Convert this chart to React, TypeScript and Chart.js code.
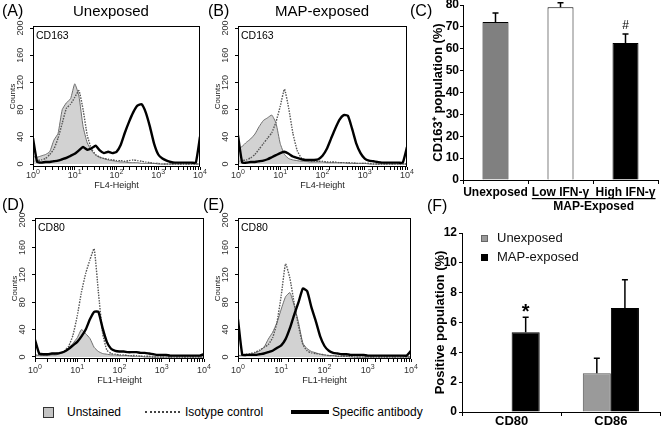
import React, { useEffect, useRef } from "react";
import { Chart, registerables } from "chart.js";

Chart.register(...registerables);

const FONT = "'Liberation Sans', Arial, Helvetica, sans-serif";
Chart.defaults.font.family = FONT;
Chart.defaults.color = "#000";

// ---------------- Flow cytometry histograms ----------------
// channel positions in decades (fluorescence = 10^e)
const DECADES = [
  0.0, 0.1, 0.2, 0.3, 0.4, 0.5, 0.6, 0.7, 0.8, 0.9,
  1.0, 1.1, 1.2, 1.3, 1.4, 1.5, 1.6, 1.7, 1.8, 1.9,
  2.0, 2.1, 2.2, 2.3, 2.4, 2.5, 2.6, 2.7, 2.8, 2.9,
  3.0, 3.1, 3.2, 3.3, 3.4, 3.5, 3.6, 3.7, 3.8, 3.9, 4.0,
];
const DECADE_LABELS = [0, 1, 2, 3, 4];
const COUNT_TICKS = [0, 40, 80, 120, 160, 200];

// (A) Unexposed, CD163
const A_UNSTAINED = [11, 10, 12, 14, 18, 35, 45, 80, 90, 96, 118, 100, 55, 31, 20, 13, 10, 8, 6, 5, 4, 3, 3, 2, 2, 2, 1, 1, 1, 1, 0, 0, 0, 0, 0, 0, 0, 0, 0, 0, 0];
const A_ISOTYPE = [4, 5, 6, 8, 14, 22, 38, 60, 82, 88, 98, 108, 80, 42, 22, 14, 10, 8, 7, 6, 5, 5, 4, 5, 6, 5, 4, 3, 2, 1, 1, 0, 0, 0, 0, 0, 0, 0, 0, 0, 0];
const A_SPECIFIC = [38, 3, 2, 3, 3, 4, 5, 7, 9, 12, 15, 20, 25, 21, 23, 27, 20, 16, 18, 16, 18, 28, 46, 62, 76, 86, 88, 76, 55, 30, 14, 8, 5, 3, 2, 2, 2, 2, 2, 2, 40];

// (B) MAP-exposed, CD163
const B_UNSTAINED = [22, 26, 32, 37, 44, 55, 64, 68, 72, 60, 30, 14, 8, 6, 5, 4, 4, 3, 3, 3, 3, 2, 2, 2, 2, 2, 1, 1, 1, 1, 1, 0, 0, 0, 0, 0, 0, 0, 0, 0, 0];
const B_ISOTYPE = [4, 5, 6, 9, 14, 22, 30, 38, 46, 62, 85, 110, 82, 45, 20, 9, 6, 5, 4, 4, 4, 3, 3, 3, 2, 2, 2, 2, 1, 1, 1, 1, 0, 0, 0, 0, 0, 0, 0, 0, 0];
const B_SPECIFIC = [42, 2, 2, 3, 3, 4, 5, 7, 10, 13, 16, 18, 15, 11, 9, 7, 6, 6, 6, 7, 12, 22, 37, 52, 65, 72, 71, 52, 30, 16, 8, 5, 4, 3, 2, 2, 2, 2, 2, 2, 25];

// (D) Unexposed, CD80
const D_UNSTAINED = [3, 2, 2, 2, 3, 3, 5, 7, 12, 20, 28, 40, 34, 27, 14, 8, 5, 4, 3, 3, 2, 2, 2, 1, 1, 1, 0, 0, 0, 0, 0, 0, 0, 0, 0, 0, 0, 0, 0, 0, 0];
const D_ISOTYPE = [3, 3, 3, 3, 4, 5, 6, 9, 16, 32, 60, 95, 122, 142, 158, 95, 35, 10, 5, 4, 3, 3, 2, 2, 2, 1, 1, 1, 0, 0, 0, 0, 0, 0, 0, 0, 0, 0, 0, 0, 0];
const D_SPECIFIC = [25, 5, 4, 4, 5, 5, 6, 8, 12, 17, 22, 30, 40, 55, 66, 66, 42, 22, 12, 9, 8, 8, 7, 7, 7, 6, 6, 5, 4, 3, 3, 3, 2, 2, 2, 2, 2, 2, 2, 2, 4];

// (E) MAP-exposed, CD80
const E_UNSTAINED = [2, 2, 3, 4, 6, 9, 14, 26, 36, 50, 70, 88, 94, 75, 50, 20, 12, 8, 6, 4, 3, 2, 2, 1, 1, 1, 0, 0, 0, 0, 0, 0, 0, 0, 0, 0, 0, 0, 0, 0, 0];
const E_ISOTYPE = [2, 3, 4, 5, 7, 10, 14, 18, 28, 50, 90, 136, 115, 78, 45, 18, 9, 6, 5, 4, 3, 2, 2, 1, 1, 1, 1, 0, 0, 0, 0, 0, 0, 0, 0, 0, 0, 0, 0, 0, 0];
const E_SPECIFIC = [55, 3, 3, 3, 3, 4, 5, 7, 9, 13, 17, 26, 42, 62, 80, 100, 96, 72, 52, 30, 16, 9, 6, 5, 4, 4, 3, 3, 3, 3, 2, 2, 2, 2, 2, 2, 2, 2, 2, 2, 9];

// ---------------- (C) CD163+ bar chart ----------------
const C_CATEGORIES = ["Unexposed", "Low IFN-γ", "High IFN-γ"];
const C_GROUP_LABEL = "MAP-Exposed";
const C_VALUES = [72.2, 79.0, 62.6];
const C_ERRORS = [4.1, 2.0, 4.1];
const C_MARKS = ["", "", "#"];
const C_COLORS = ["#808080", "#ffffff", "#000000"];

// ---------------- (F) CD80 / CD86 bar chart ----------------
const F_CATEGORIES = ["CD80", "CD86"];
const F_SERIES = ["Unexposed", "MAP-exposed"];
const F_UNEXPOSED = [0, 2.6];
const F_UNEXPOSED_ERR = [0, 1.0];
const F_MAP = [5.35, 6.97];
const F_MAP_ERR = [1.0, 1.9];
const F_MAP_MARKS = ["*", ""];
const F_COLORS = ["#9a9a9a", "#000000"];

// ---------------- Histogram component ----------------
const Y_AXIS_W = 33;
const PAD_T = 20;
const PAD_R = 8;
const X_AXIS_H = 30;

type HistProps = {
  L: number; T: number; R: number; B: number;
  yMin: number; marker: string; xTitle: string;
  labelDy: number; titleDy: number;
  unstained: number[]; isotype: number[]; specific: number[];
};

function Histogram(p: HistProps) {
  const ref = useRef<HTMLCanvasElement | null>(null);
  const w = Y_AXIS_W + (p.R - p.L) + PAD_R;
  const h = PAD_T + (p.B - p.T) + X_AXIS_H;
  useEffect(() => {
    const pts = (arr: number[]) => DECADES.map((e, i) => ({ x: Math.pow(10, e), y: arr[i] }));
    const overlay = {
      id: "histOverlay",
      afterDraw(chart: any) {
        const { ctx, chartArea: ca, scales } = chart;
        const xs = scales.x;
        const ys = scales.y;
        ctx.save();
        ctx.strokeStyle = "#000";
        ctx.lineWidth = 1;
        ctx.strokeRect(Math.round(ca.left) + 0.5, Math.round(ca.top) + 0.5, Math.round(ca.width) - 1, Math.round(ca.height) - 1);
        ctx.fillStyle = "#333";
        ctx.font = `9px ${FONT}`;
        ctx.textAlign = "center";
        ctx.textBaseline = "middle";
        COUNT_TICKS.forEach((v) => {
          ctx.save();
          ctx.translate(ca.left - 12, ys.getPixelForValue(v));
          ctx.rotate(-Math.PI / 2);
          ctx.fillText(String(v), 0, 0);
          ctx.restore();
        });
        DECADE_LABELS.forEach((e) => {
          const px = xs.getPixelForValue(Math.pow(10, e));
          ctx.font = `9px ${FONT}`;
          const w1 = ctx.measureText("10").width;
          ctx.font = `7px ${FONT}`;
          const w2 = ctx.measureText(String(e)).width;
          const x0 = px - (w1 + w2) / 2;
          ctx.textAlign = "left";
          ctx.font = `9px ${FONT}`;
          ctx.fillText("10", x0, ca.bottom + p.labelDy);
          ctx.font = `7px ${FONT}`;
          ctx.fillText(String(e), x0 + w1, ca.bottom + p.labelDy - 4);
        });
        ctx.fillStyle = "#000";
        ctx.font = `10.5px ${FONT}`;
        ctx.textAlign = "left";
        ctx.fillText(p.marker, ca.left + 3, ca.top + 10);
        ctx.restore();
      },
    };
    const chart = new Chart(ref.current as HTMLCanvasElement, {
      type: "line",
      data: {
        datasets: [
          { label: "Specific antibody", data: pts(p.specific), borderColor: "#000", borderWidth: 2.4, pointRadius: 0, tension: 0.15, fill: false },
          { label: "Isotype control", data: pts(p.isotype), borderColor: "#555", borderWidth: 1.4, borderDash: [1.5, 1.2], pointRadius: 0, tension: 0.15, fill: false },
          { label: "Unstained", data: pts(p.unstained), borderColor: "#6e6e6e", borderWidth: 1, backgroundColor: "#d2d2d2", pointRadius: 0, tension: 0.15, fill: "origin" },
        ] as any,
      },
      options: {
        responsive: false,
        animation: false,
        devicePixelRatio: 1,
        layout: { padding: { top: PAD_T, right: PAD_R, left: 0, bottom: 0 } },
        plugins: { legend: { display: false }, tooltip: { enabled: false } },
        scales: {
          x: {
            type: "logarithmic",
            min: 1,
            max: 10000,
            afterFit: (s: any) => { s.height = X_AXIS_H; },
            border: { display: false },
            grid: { drawOnChartArea: false, tickLength: 3, color: "#000" },
            ticks: { display: false, autoSkip: false },
            title: { display: true, text: p.xTitle, color: "#222", font: { size: 9 }, padding: { top: 0, bottom: 24 - p.titleDy } },
          },
          y: {
            min: p.yMin,
            max: 203,
            afterFit: (s: any) => { s.width = Y_AXIS_W; },
            afterBuildTicks: (s: any) => { s.ticks = COUNT_TICKS.map((v) => ({ value: v })); },
            border: { display: false },
            grid: { drawOnChartArea: false, tickLength: 3, color: "#000" },
            ticks: { display: false },
            title: { display: true, text: "Counts", color: "#222", font: { size: 8 }, padding: { top: 8, bottom: 0 } },
          },
        },
      } as any,
      plugins: [overlay],
    });
    return () => chart.destroy();
  }, []);
  return (
    <canvas
      ref={ref}
      width={w}
      height={h}
      style={{ position: "absolute", left: p.L - Y_AXIS_W, top: p.T - PAD_T, width: w, height: h }}
    />
  );
}

// error bar + annotation plugin factory
function errorPlugin(errs: number[][], marks: string[][]) {
  return {
    id: "errbars",
    afterDatasetsDraw(chart: any) {
      const { ctx, scales } = chart;
      const ys = scales.y;
      ctx.save();
      chart.data.datasets.forEach((ds: any, di: number) => {
        const meta = chart.getDatasetMeta(di);
        meta.data.forEach((el: any, i: number) => {
          const v = ds.data[i];
          const err = errs[di][i];
          const yTop = ys.getPixelForValue(v + err);
          if (err > 0) {
            ctx.strokeStyle = "#000";
            ctx.lineWidth = 1.5;
            ctx.beginPath();
            ctx.moveTo(el.x, el.y);
            ctx.lineTo(el.x, yTop);
            ctx.moveTo(el.x - 3, yTop);
            ctx.lineTo(el.x + 3, yTop);
            ctx.stroke();
          }
          const m = marks[di][i];
          if (m) {
            ctx.fillStyle = "#000";
            ctx.textAlign = "center";
            ctx.textBaseline = "alphabetic";
            if (m === "*") {
              ctx.font = `bold 20px ${FONT}`;
              ctx.fillText(m, el.x, yTop + 1);
            } else {
              ctx.font = `12px ${FONT}`;
              ctx.fillText(m, el.x, yTop - 5);
            }
          }
        });
      });
      ctx.restore();
    },
  };
}

function PanelC() {
  const ref = useRef<HTMLCanvasElement | null>(null);
  useEffect(() => {
    const groupPlugin = {
      id: "groupLabel",
      afterDraw(chart: any) {
        const { ctx, chartArea: ca, scales } = chart;
        const xs = scales.x;
        ctx.save();
        ctx.font = `bold 12px ${FONT}`;
        const l = xs.getPixelForTick(1) - ctx.measureText(C_CATEGORIES[1]).width / 2;
        const r = xs.getPixelForTick(2) + ctx.measureText(C_CATEGORIES[2]).width / 2;
        ctx.fillStyle = "#000";
        ctx.fillRect(l, ca.bottom + 18, r - l, 1.2);
        ctx.textAlign = "center";
        ctx.textBaseline = "middle";
        ctx.fillText(C_GROUP_LABEL, (l + r) / 2, ca.bottom + 27);
        ctx.restore();
      },
    };
    const chart = new Chart(ref.current as HTMLCanvasElement, {
      type: "bar",
      data: {
        labels: C_CATEGORIES,
        datasets: [
          { data: C_VALUES, backgroundColor: C_COLORS, borderColor: "#000", borderWidth: 1, barPercentage: 0.4, categoryPercentage: 1 },
        ],
      },
      options: {
        responsive: false,
        animation: false,
        devicePixelRatio: 1,
        layout: { padding: { top: 20, right: 11, left: 0, bottom: 0 } },
        plugins: { legend: { display: false }, tooltip: { enabled: false } },
        scales: {
          x: {
            afterFit: (s: any) => { s.height = 35; },
            border: { color: "#000", width: 1 },
            grid: { drawOnChartArea: false, tickLength: 4, color: "#000" },
            ticks: { font: { size: 12, weight: "bold" }, color: "#000", padding: 1, autoSkip: false, maxRotation: 0 },
          },
          y: {
            min: 0,
            max: 80,
            afterFit: (s: any) => { s.width = 38; },
            border: { color: "#000", width: 1 },
            grid: { drawOnChartArea: false, tickLength: 3, color: "#000" },
            ticks: { stepSize: 10, font: { size: 12, weight: "bold" }, color: "#000", padding: 1 },
            title: { display: true, text: "CD163⁺ population (%)", color: "#000", font: { size: 13, weight: "bold" }, padding: { top: 6, bottom: 0 } },
          },
        },
      } as any,
      plugins: [errorPlugin([C_ERRORS], [C_MARKS]), groupPlugin],
    });
    return () => chart.destroy();
  }, []);
  return <canvas ref={ref} width={244} height={230} style={{ position: "absolute", left: 425, top: -15, width: 244, height: 230 }} />;
}

function PanelF() {
  const ref = useRef<HTMLCanvasElement | null>(null);
  useEffect(() => {
    const legendPlugin = {
      id: "insideLegend",
      afterDraw(chart: any) {
        const { ctx, chartArea: ca } = chart;
        ctx.save();
        ctx.font = `13px ${FONT}`;
        ctx.textAlign = "left";
        ctx.textBaseline = "middle";
        F_SERIES.forEach((name, i) => {
          const cy = ca.top + 5.5 + i * 19;
          ctx.fillStyle = F_COLORS[i];
          ctx.fillRect(ca.left + 19, cy - 3.5, 7, 7);
          ctx.strokeStyle = i === 0 ? "#666" : "#000";
          ctx.lineWidth = 1;
          ctx.strokeRect(ca.left + 19.5, cy - 3, 6, 6);
          ctx.fillStyle = "#111";
          ctx.fillText(name, ca.left + 35, cy);
        });
        ctx.restore();
      },
    };
    const chart = new Chart(ref.current as HTMLCanvasElement, {
      type: "bar",
      data: {
        labels: F_CATEGORIES,
        datasets: [
          { label: F_SERIES[0], data: F_UNEXPOSED, backgroundColor: F_COLORS[0], borderColor: "#555", borderWidth: 1, barPercentage: 1, categoryPercentage: 0.566 },
          { label: F_SERIES[1], data: F_MAP, backgroundColor: F_COLORS[1], borderColor: "#000", borderWidth: 1, barPercentage: 1, categoryPercentage: 0.566 },
        ],
      },
      options: {
        responsive: false,
        animation: false,
        devicePixelRatio: 1,
        layout: { padding: { top: 18, right: 8.5, left: 0, bottom: 0 } },
        plugins: { legend: { display: false }, tooltip: { enabled: false } },
        scales: {
          x: {
            afterFit: (s: any) => { s.height = 21; },
            border: { color: "#000", width: 1 },
            grid: { drawOnChartArea: false, tickLength: 4, color: "#000" },
            ticks: { font: { size: 13, weight: "bold" }, color: "#000", padding: -2, autoSkip: false, maxRotation: 0 },
          },
          y: {
            min: 0,
            max: 12,
            afterFit: (s: any) => { s.width = 37; },
            border: { color: "#000", width: 1 },
            grid: { drawOnChartArea: false, tickLength: 3, color: "#000" },
            ticks: { stepSize: 2, font: { size: 12, weight: "bold" }, color: "#000", padding: 2 },
            title: { display: true, text: "Positive population (%)", color: "#000", font: { size: 13, weight: "bold" }, padding: { top: 8, bottom: 0 } },
          },
        },
      } as any,
      plugins: [errorPlugin([F_UNEXPOSED_ERR, F_MAP_ERR], [["", ""], F_MAP_MARKS]), legendPlugin],
    });
    return () => chart.destroy();
  }, []);
  return <canvas ref={ref} width={244} height={218} style={{ position: "absolute", left: 425, top: 215, width: 244, height: 218 }} />;
}

const txt = (left: number, top: number, size: number, text: string, extra: any = {}) => (
  <div style={{ position: "absolute", left, top, fontSize: size, lineHeight: `${size}px`, whiteSpace: "nowrap", ...extra }}>{text}</div>
);

export default function App() {
  return (
    <div style={{ position: "absolute", left: 0, top: 0, width: 669, height: 433, background: "#fff", overflow: "hidden", fontFamily: FONT, color: "#000" }}>
      <Histogram L={33} T={26} R={200} B={167} yMin={-4.4} marker="CD163" xTitle="FL4-Height" labelDy={9} titleDy={18}
        unstained={A_UNSTAINED} isotype={A_ISOTYPE} specific={A_SPECIFIC} />
      <Histogram L={238} T={26} R={407} B={167} yMin={-4.4} marker="CD163" xTitle="FL4-Height" labelDy={9} titleDy={18}
        unstained={B_UNSTAINED} isotype={B_ISOTYPE} specific={B_SPECIFIC} />
      <Histogram L={35} T={218} R={204} B={359} yMin={-3} marker="CD80" xTitle="FL1-Height" labelDy={12} titleDy={21}
        unstained={D_UNSTAINED} isotype={D_ISOTYPE} specific={D_SPECIFIC} />
      <Histogram L={238} T={218} R={411} B={359} yMin={-3} marker="CD80" xTitle="FL1-Height" labelDy={12} titleDy={21}
        unstained={E_UNSTAINED} isotype={E_ISOTYPE} specific={E_SPECIFIC} />
      <PanelC />
      <PanelF />

      {txt(2, 3, 16, "(A)")}
      {txt(73, 3, 15, "Unexposed")}
      {txt(208, 3, 16, "(B)")}
      {txt(275, 3, 15, "MAP-exposed")}
      {txt(410, 3, 16, "(C)")}
      {txt(2, 197, 16, "(D)")}
      {txt(203, 197, 16, "(E)")}
      {txt(427, 198, 16, "(F)")}

      <div style={{ position: "absolute", left: 43, top: 407, width: 11, height: 11, boxSizing: "border-box", background: "#c4c4c4", border: "1px solid #333" }} />
      {txt(67, 406, 12, "Unstained")}
      <div style={{ position: "absolute", left: 145, top: 411, width: 35, height: 0, borderTop: "2px dotted #444" }} />
      {txt(185, 406, 12, "Isotype control")}
      <div style={{ position: "absolute", left: 291, top: 410, width: 38, height: 4, background: "#000" }} />
      {txt(332, 406, 12, "Specific antibody")}
    </div>
  );
}
